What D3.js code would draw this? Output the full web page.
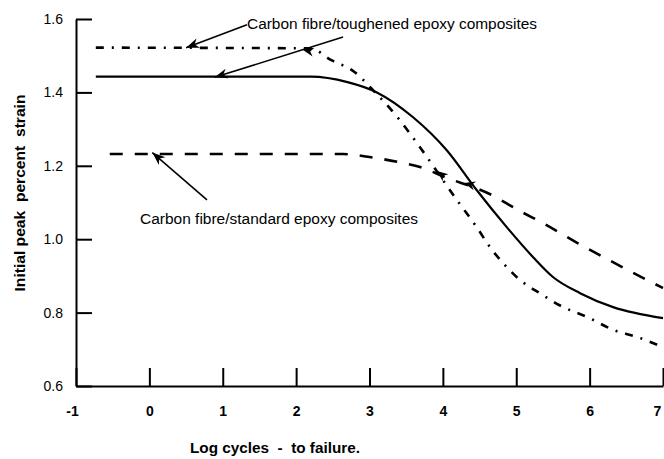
<!DOCTYPE html>
<html>
<head>
<meta charset="utf-8">
<script src="https://cdn.jsdelivr.net/npm/d3@7/dist/d3.min.js"></script>
<style>
  html, body { margin: 0; padding: 0; background: #fff; }
  svg { display: block; }
  text { font-family: "Liberation Sans", Arial, sans-serif; fill: #000; }
</style>
</head>
<body>
<svg id="chart" width="664" height="459"></svg>
<script>
// ---- data ----
const xTicks = [-1, 0, 1, 2, 3, 4, 5, 6, 7];
const xTickLabels = ["-1", "0", "1", "2", "3", "4", "5", "6", "7"];
const yTicks = [0.6, 0.8, 1.0, 1.2, 1.4, 1.6];
const yTickLabels = ["0.6", "0.8", "1.0", "1.2", "1.4", "1.6"];

// Carbon fibre/toughened epoxy composites (solid)
const toughSolidX = [-0.73, 2.2, 2.7, 3.1, 3.59, 4.05, 4.46, 4.87, 5.23, 5.5, 5.87, 6.32, 7.0];
const toughSolidY = [1.443, 1.443, 1.428, 1.40, 1.333, 1.243, 1.134, 1.033, 0.951, 0.897, 0.853, 0.815, 0.785];

// Carbon fibre/toughened epoxy composites (dash-dot, upper)
const toughDashX = [-0.73, 2.2, 2.46, 2.8, 3.03, 3.41, 3.69, 4.19, 4.46, 4.64, 4.87, 5.05, 5.32, 5.59, 6.0, 6.32, 6.64, 7.0];
const toughDashY = [1.522, 1.52, 1.49, 1.455, 1.41, 1.325, 1.25, 1.107, 1.033, 0.979, 0.924, 0.889, 0.853, 0.82, 0.785, 0.753, 0.734, 0.706];

// Carbon fibre/standard epoxy composites (dashed)
const standardX = [-0.54, 2.64, 3.0, 3.4, 3.7, 4.02, 4.67, 5.02, 5.4, 5.83, 6.2, 6.53, 6.87, 7.0];
const standardY = [1.232, 1.232, 1.224, 1.21, 1.196, 1.17, 1.12, 1.08, 1.04, 0.99, 0.95, 0.915, 0.88, 0.867];

const labelTough = "Carbon fibre/toughened epoxy composites";
const labelStandard = "Carbon fibre/standard epoxy composites";
const xTitle = "Log cycles  -  to failure.";
const yTitle = "Initial peak  percent  strain";

// annotation arrows in data units: [fromX, fromY, tipX, tipY]
const arrows = [
  [1.33, 1.584, 0.50, 1.522],
  [2.64, 1.551, 0.89, 1.441],
  [0.785, 1.107, 0.04, 1.236]
];
// stray arrowheads in the figure: [tipX, tipY, backX, backY]
const heads = [
  [2.09, 1.516, 2.23, 1.510],
  [3.92, 1.186, 4.05, 1.165],
  [4.29, 1.153, 4.44, 1.145]
];

// ---- layout ----
const svg = d3.select("#chart");
const x = d3.scaleLinear().domain([-1, 7]).range([76, 663]);
const y = d3.scaleLinear().domain([0.6, 1.6]).range([386, 19]);

// axes
const yAxis = d3.axisLeft(y).tickValues(yTicks).tickSize(-16).tickSizeOuter(0).tickPadding(13)
  .tickFormat((d, i) => yTickLabels[i]);
const gy = svg.append("g").attr("transform", `translate(${x(-1)},0)`).call(yAxis);
gy.select(".domain").attr("stroke", "#000").attr("stroke-width", 2);
gy.selectAll(".tick line").attr("stroke", "#000").attr("stroke-width", 2);
gy.selectAll(".tick text").attr("font-size", 14).attr("font-family", "Liberation Sans, Arial, sans-serif");

const xAxis = d3.axisBottom(x).tickValues(xTicks).tickSize(-18).tickSizeOuter(0).tickPadding(20)
  .tickFormat((d, i) => xTickLabels[i]);
const gx = svg.append("g").attr("transform", `translate(0,${y(0.6)})`).call(xAxis);
gx.select(".domain").attr("stroke", "#000").attr("stroke-width", 2);
gx.selectAll(".tick line").attr("stroke", "#000").attr("stroke-width", 2);
gx.selectAll(".tick text").attr("font-size", 14).attr("font-weight", "bold")
  .attr("font-family", "Liberation Sans, Arial, sans-serif")
  .attr("dx", (d, i) => i === 0 ? -4 : (i === xTicks.length - 1 ? -6 : 0));

// titles
svg.append("text").attr("x", 275).attr("y", 453).attr("text-anchor", "middle")
  .attr("font-size", 15).attr("font-weight", "bold").style("white-space", "pre")
  .attr("textLength", 170).attr("lengthAdjust", "spacingAndGlyphs").text(xTitle);
svg.append("text").attr("transform", "translate(25,193) rotate(-90)").attr("text-anchor", "middle")
  .attr("font-size", 15).attr("font-weight", "bold").style("white-space", "pre")
  .attr("textLength", 197).attr("lengthAdjust", "spacingAndGlyphs").text(yTitle);

// curves
const line = d3.line().x(d => x(d[0])).y(d => y(d[1])).curve(d3.curveMonotoneX);
const zip = (a, b) => a.map((v, i) => [v, b[i]]);

svg.append("path").datum(zip(standardX, standardY)).attr("d", line)
  .attr("fill", "none").attr("stroke", "#000").attr("stroke-width", 2.6).attr("stroke-dasharray", "13,12");
svg.append("path").datum(zip(toughDashX, toughDashY)).attr("d", line)
  .attr("fill", "none").attr("stroke", "#000").attr("stroke-width", 2.6).attr("stroke-dasharray", "8,8,2,8");
svg.append("path").datum(zip(toughSolidX, toughSolidY)).attr("d", line)
  .attr("fill", "none").attr("stroke", "#000").attr("stroke-width", 2.2);

// arrows
function arrowHead(tx, ty, bx, by, len, half) {
  const ang = Math.atan2(ty - by, tx - bx);
  const ux = Math.cos(ang), uy = Math.sin(ang);
  const px = -uy, py = ux;
  const b1x = tx - ux * len, b1y = ty - uy * len;
  return `M${tx},${ty}L${b1x + px * half},${b1y + py * half}L${tx - ux * len * 0.7},${ty - uy * len * 0.7}L${b1x - px * half},${b1y - py * half}Z`;
}
arrows.forEach(a => {
  const fx = x(a[0]), fy = y(a[1]), tx = x(a[2]), ty = y(a[3]);
  svg.append("line").attr("x1", fx).attr("y1", fy).attr("x2", tx).attr("y2", ty)
    .attr("stroke", "#000").attr("stroke-width", 1.6);
  svg.append("path").attr("d", arrowHead(tx, ty, fx, fy, 13, 5)).attr("fill", "#000");
});
heads.forEach(h => {
  svg.append("path").attr("d", arrowHead(x(h[0]), y(h[1]), x(h[2]), y(h[3]), 11, 4.5)).attr("fill", "#000");
});

// annotation labels
svg.append("text").attr("x", 247).attr("y", 28.5).attr("font-size", 15.5)
  .attr("textLength", 290).attr("lengthAdjust", "spacingAndGlyphs").text(labelTough);
svg.append("text").attr("x", 140).attr("y", 223.5).attr("font-size", 15.5)
  .attr("textLength", 278).attr("lengthAdjust", "spacingAndGlyphs").text(labelStandard);
</script>
</body>
</html>
